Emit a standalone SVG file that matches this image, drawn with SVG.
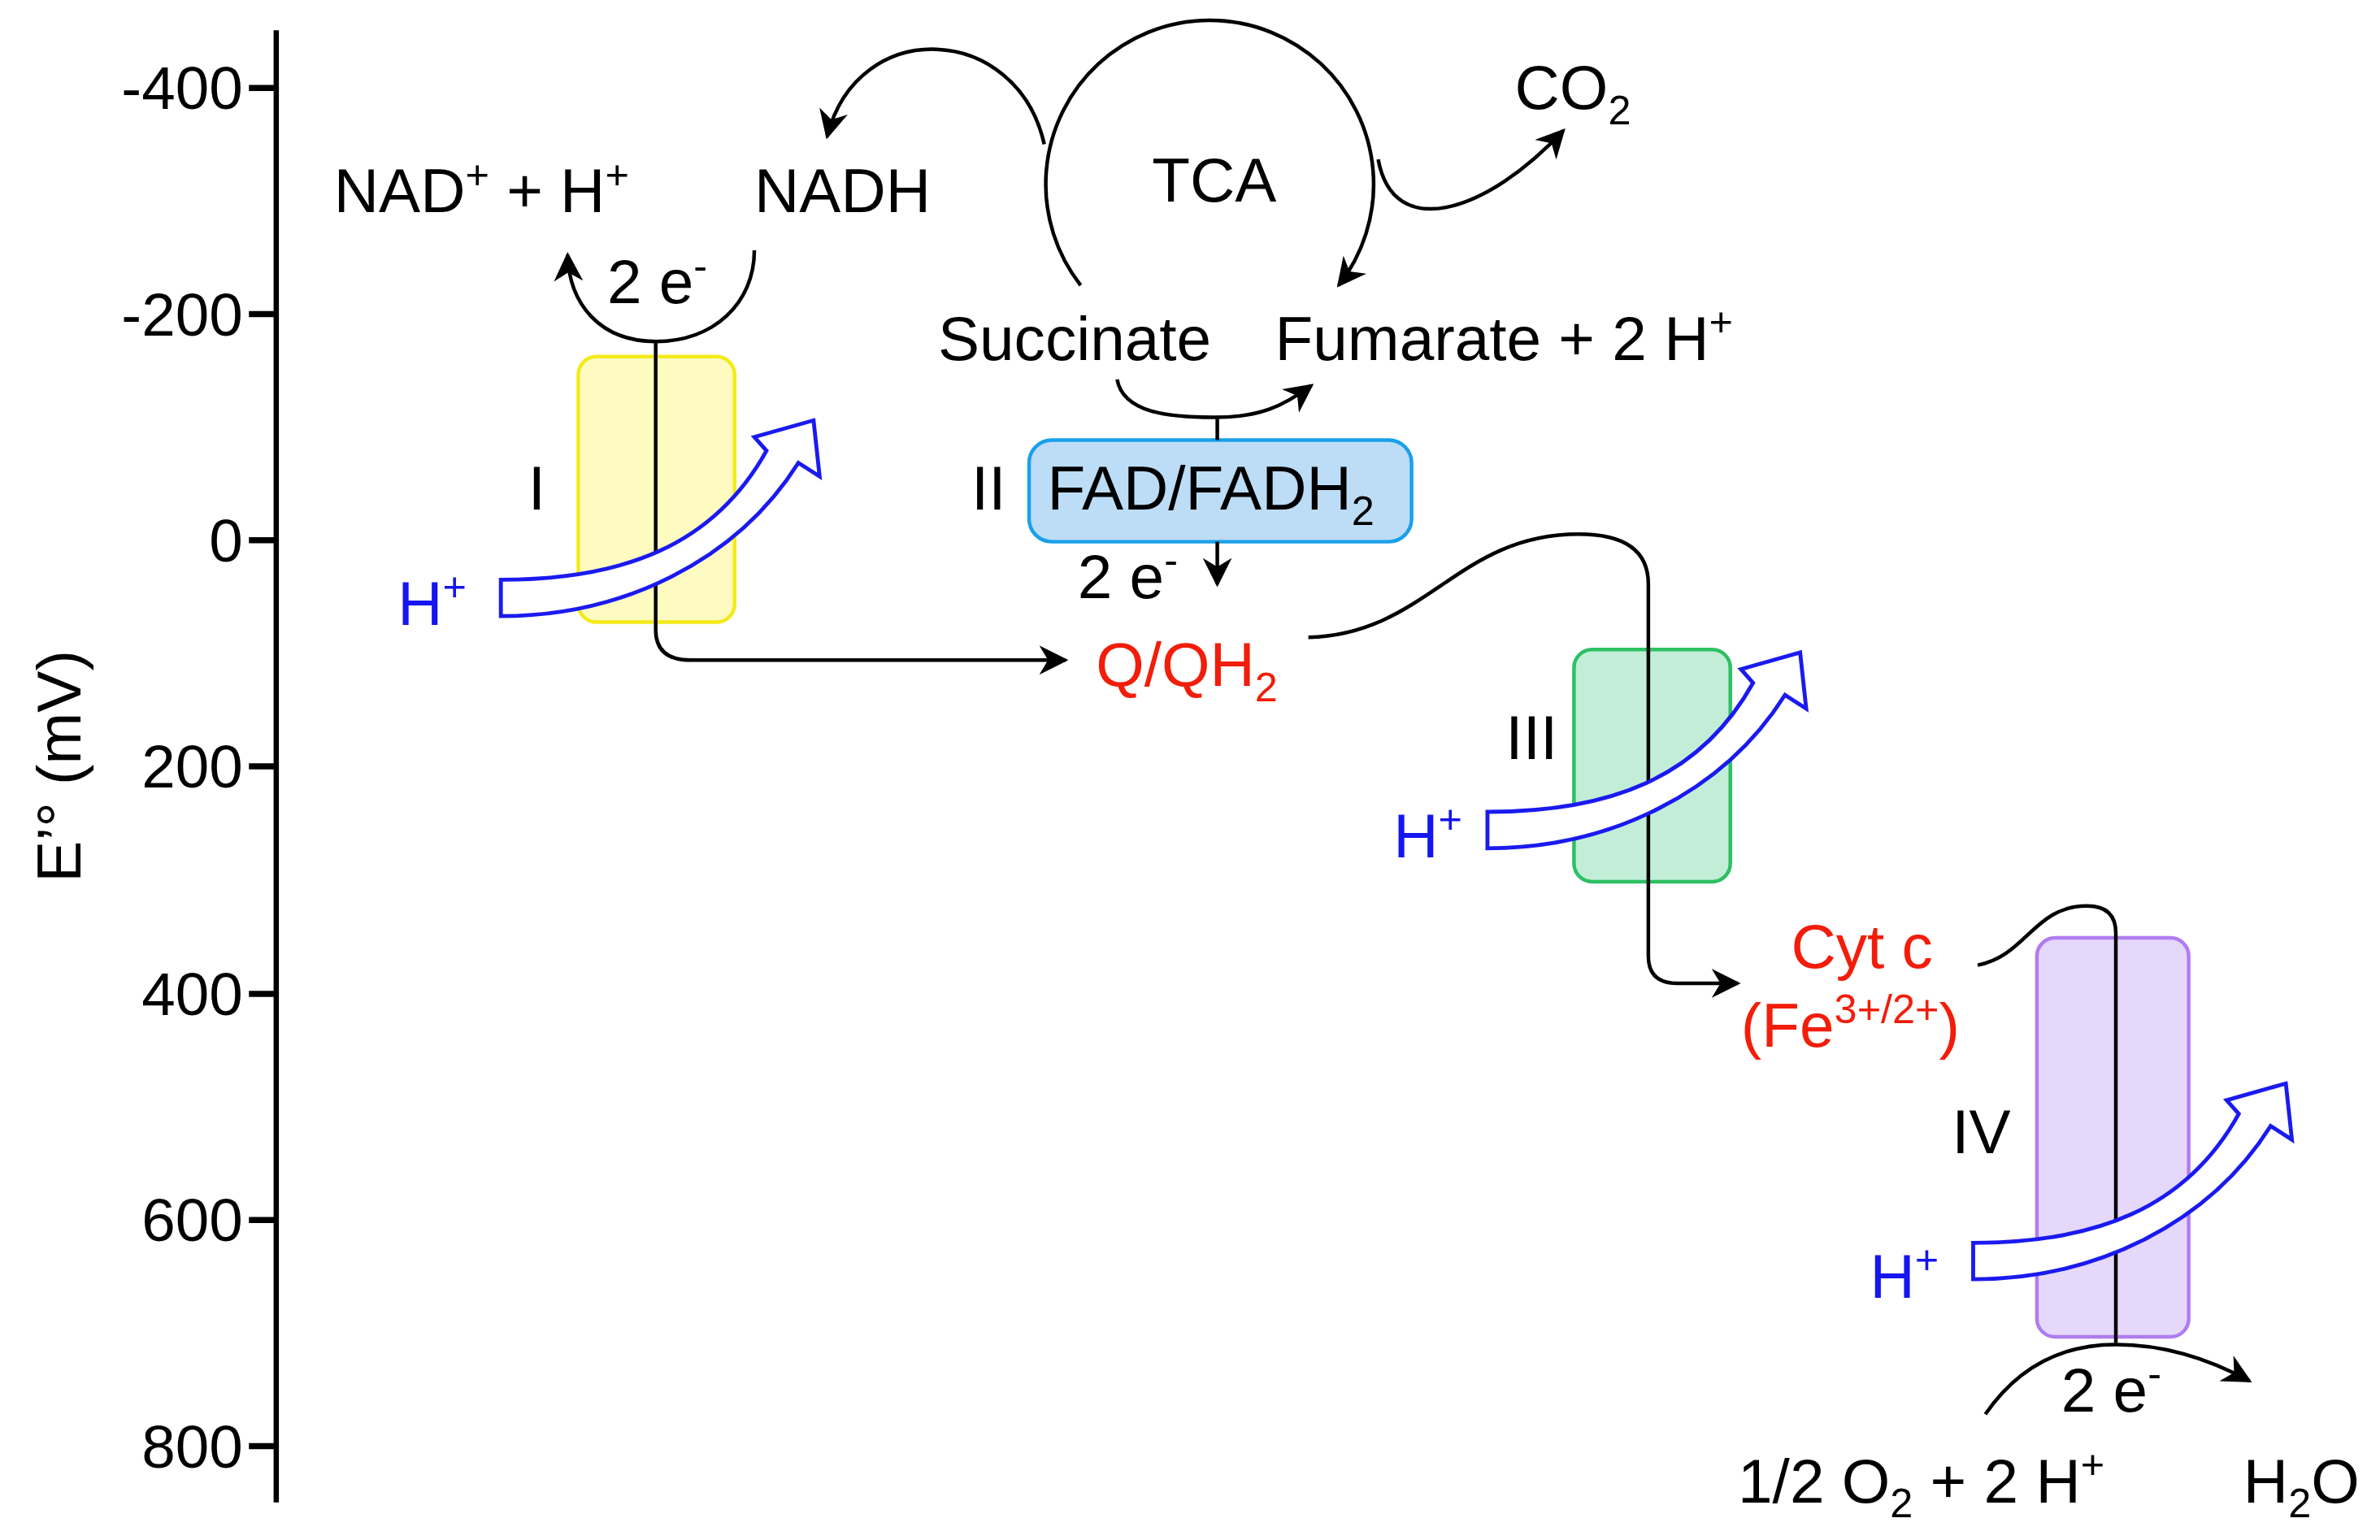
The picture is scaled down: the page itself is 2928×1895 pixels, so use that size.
<svg xmlns="http://www.w3.org/2000/svg" width="2928" height="1895" viewBox="0 0 2928 1895">
<style>
text{font-family:"Liberation Sans",Arial,sans-serif;font-size:41px;fill:#000}
.r{fill:#f21d0a}.b{fill:#1515f0}
.tk{font-size:40px;text-anchor:end}
.ln{fill:none;stroke:#000;stroke-width:2.4}
.hp{fill:#fff;stroke:#1a1af0;stroke-width:2.6;stroke-linejoin:miter}
.s{font-size:27px}
</style>
<defs>
<marker id="ah" viewBox="0 0 10 10" refX="9" refY="5" markerWidth="8" markerHeight="8" orient="auto" markerUnits="strokeWidth">
<path d="M0 0L10 5L0 10L3 5Z" fill="#000"/>
</marker>
<path id="harrow" d="M330 382 C410 382 470 360 505 297 L497 288 L536 277 L540 314 L526 305 C485 370 410 406 330 406 Z"/>
</defs>
<rect width="2928" height="1895" fill="#fff"/>
<g transform="scale(1.8673)">
<g id="axis">
<line x1="182" y1="20" x2="182" y2="990" stroke="#000" stroke-width="3.5"/>
<g stroke="#000" stroke-width="4">
<line x1="164" y1="58" x2="182" y2="58"/><line x1="164" y1="207" x2="182" y2="207"/><line x1="164" y1="356" x2="182" y2="356"/><line x1="164" y1="505" x2="182" y2="505"/><line x1="164" y1="655" x2="182" y2="655"/><line x1="164" y1="804" x2="182" y2="804"/><line x1="164" y1="953" x2="182" y2="953"/>
</g>
<text class="tk" x="160" y="72">-400</text><text class="tk" x="160" y="221">-200</text><text class="tk" x="160" y="370">0</text><text class="tk" x="160" y="519">200</text><text class="tk" x="160" y="669">400</text><text class="tk" x="160" y="818">600</text><text class="tk" x="160" y="967">800</text>
<text transform="translate(53 505) rotate(-90)" text-anchor="middle">E’° (mV)</text>
</g>
<g id="complexI">
<rect x="381" y="235" width="103" height="175" rx="12" fill="#fdfbc0" stroke="#f3ea1a" stroke-width="2.4"/>
<text x="348" y="336">I</text>
</g>
<g id="complexII">
<rect x="678" y="290" width="252" height="67" rx="15" fill="#bddcf6" stroke="#1aa0ea" stroke-width="2.4"/>
<text x="640" y="336">II</text>
<text x="690" y="336">FAD/FADH<tspan class="s" dy="10">2</tspan></text>
</g>
<g id="complexIII">
<rect x="1037" y="428" width="103" height="153" rx="12" fill="#c2eed7" stroke="#2ec063" stroke-width="2.4"/>
<text x="992" y="500">III</text>
</g>
<g id="complexIV">
<rect x="1342" y="618" width="100" height="263" rx="12" fill="#e5d8fb" stroke="#b07cf0" stroke-width="2.4"/>
<text x="1286" y="760">IV</text>
</g>
<g id="labels">
<text x="220" y="140">NAD<tspan class="s" dy="-16">+</tspan><tspan dy="16"> + H</tspan><tspan class="s" dy="-16">+</tspan></text>
<text x="497" y="140">NADH</text>
<text x="400" y="200">2 e<tspan class="s" dy="-16">-</tspan></text>
<text x="800" y="133" text-anchor="middle">TCA</text>
<text x="998" y="72">CO<tspan class="s" dy="10">2</tspan></text>
<text x="618" y="237">Succinate</text>
<text x="840" y="237">Fumarate + 2 H<tspan class="s" dy="-16">+</tspan></text>
<text x="710" y="394">2 e<tspan class="s" dy="-16">-</tspan></text>
<text class="r" x="722" y="452">Q/QH<tspan class="s" dy="10">2</tspan></text>
<text class="r" x="1180" y="638">Cyt c</text>
<text class="r" x="1147" y="690">(Fe<tspan class="s" dy="-16">3+/2+</tspan><tspan dy="16">)</tspan></text>
<text x="1358" y="930">2 e<tspan class="s" dy="-16">-</tspan></text>
<text x="1145" y="990">1/2 O<tspan class="s" dy="10">2</tspan><tspan dy="-10"> + 2 H</tspan><tspan class="s" dy="-16">+</tspan></text>
<text x="1478" y="990">H<tspan class="s" dy="10">2</tspan><tspan dy="-10">O</tspan></text>
<text class="b" x="262" y="412">H<tspan class="s" dy="-16">+</tspan></text>
<text class="b" x="918" y="565">H<tspan class="s" dy="-16">+</tspan></text>
<text class="b" x="1232" y="855">H<tspan class="s" dy="-16">+</tspan></text>
</g>
<g id="connectors">
<path class="ln" d="M497 165 C497 200 470 225 432 225 C395 225 375 200 374 168" marker-end="url(#ah)"/>
<path class="ln" d="M432 225 L432 415 Q432 435 455 435 L702 435" marker-end="url(#ah)"/>
<path class="ln" d="M712 188 A108 108 0 1 1 882 188" marker-end="url(#ah)"/>
<path class="ln" d="M688 95 C670 15 565 10 545 90" marker-end="url(#ah)"/>
<path class="ln" d="M908 105 C918 160 980 140 1030 86" marker-end="url(#ah)"/>
<path class="ln" d="M736 250 C740 272 770 275 800 275 C830 275 845 268 864 254" marker-end="url(#ah)"/>
<path class="ln" d="M802 275 L802 290"/>
<path class="ln" d="M802 357 L802 385" marker-end="url(#ah)"/>
<path class="ln" d="M862 420 C940 418 960 352 1040 352 Q1086 352 1086 385 L1086 630 Q1086 648 1105 648 L1145 648" marker-end="url(#ah)"/>
<path class="ln" d="M1303 636 C1335 630 1340 597 1375 597 Q1394 597 1394 615 L1394 885"/>
<path class="ln" d="M1308 932 C1330 900 1360 886 1394 886 C1430 886 1460 898 1482 910" marker-end="url(#ah)"/>
<use href="#harrow" class="hp"/>
<use href="#harrow" class="hp" transform="translate(650 153)"/>
<use href="#harrow" class="hp" transform="translate(970 437)"/>
</g>
</g>
</svg>
